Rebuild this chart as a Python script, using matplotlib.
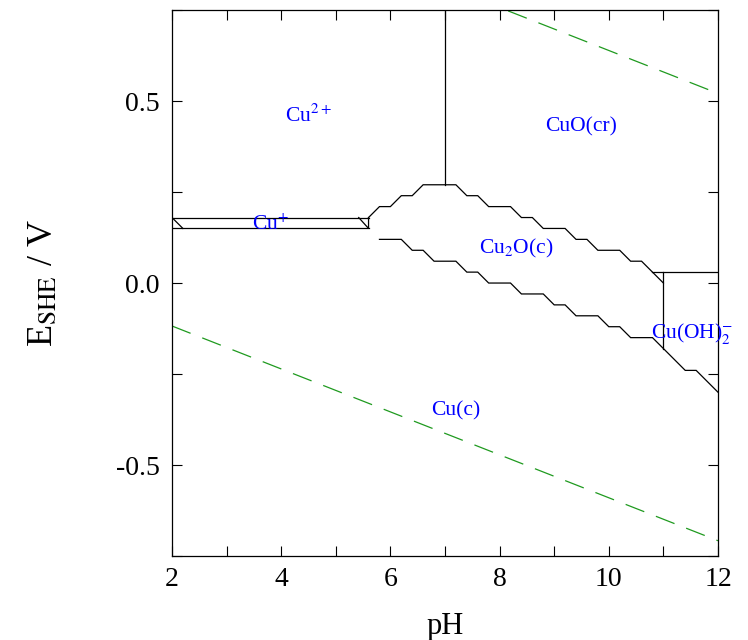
import matplotlib
matplotlib.use("Agg")
import matplotlib.pyplot as plt
from matplotlib.ticker import MultipleLocator

plt.rcParams['font.family'] = ['Liberation Serif', 'DejaVu Serif']
plt.rcParams['mathtext.fontset'] = 'stix'

# boundaries (pH, E / V)
cu_plus_top_ph = [2.0, 5.6]
cu_plus_top_e = [0.18, 0.18]
cu_plus_bot_ph = [2.0, 5.6]
cu_plus_bot_e = [0.15, 0.15]
cu_plus_left_ph = [2.0, 2.2]
cu_plus_left_e = [0.18, 0.15]
cu_plus_right_ph = [5.42, 5.6, 5.6]
cu_plus_right_e = [0.18, 0.15, 0.18]

upper_ph = [5.6, 5.8, 6.0, 6.2, 6.4, 6.6, 7.2, 7.4, 7.6, 7.8, 8.2, 8.4, 8.6,
            8.8, 9.2, 9.4, 9.6, 9.8, 10.2, 10.4, 10.6, 10.8, 11.0]
upper_e = [0.18, 0.21, 0.21, 0.24, 0.24, 0.27, 0.27, 0.24, 0.24, 0.21, 0.21,
           0.18, 0.18, 0.15, 0.15, 0.12, 0.12, 0.09, 0.09, 0.06, 0.06, 0.03, 0.0]

lower_ph = [5.8, 6.2, 6.4, 6.6, 6.8, 7.2, 7.4, 7.6, 7.8, 8.2, 8.4, 8.8, 9.0,
            9.2, 9.4, 9.8, 10.0, 10.2, 10.4, 10.8, 11.0, 11.4, 11.6, 12.0]
lower_e = [0.12, 0.12, 0.09, 0.09, 0.06, 0.06, 0.03, 0.03, 0.0, 0.0, -0.03,
           -0.03, -0.06, -0.06, -0.09, -0.09, -0.12, -0.12, -0.15, -0.15,
           -0.18, -0.24, -0.24, -0.30]

cu2_cuo_ph = [7.0, 7.0]
cu2_cuo_e = [0.75, 0.27]
cuo_hydrox_ph = [10.8, 12.0]
cuo_hydrox_e = [0.03, 0.03]
cu2o_hydrox_ph = [11.0, 11.0]
cu2o_hydrox_e = [0.03, -0.18]

# water stability lines
o2_ph = [2.0, 12.0]
o2_e = [1.111, 0.521]
h2_ph = [2.0, 12.0]
h2_e = [-0.118, -0.708]

labels = ['Cu$^{2+}$', 'CuO(cr)', 'Cu$^{+}$', 'Cu$_2$O(c)', 'Cu(OH)$_2^{-}$', 'Cu(c)']
label_ph = [4.5, 9.5, 3.8, 8.3, 11.53, 7.2]
label_e = [0.46, 0.43, 0.16, 0.095, -0.14, -0.35]

fig = plt.figure(figsize=(7.48, 6.4), dpi=100)
ax = fig.add_axes([0.2299, 0.13125, 0.73, 0.853])

lw = 0.9
for px, ey in [(cu_plus_top_ph, cu_plus_top_e), (cu_plus_bot_ph, cu_plus_bot_e),
               (cu_plus_left_ph, cu_plus_left_e), (cu_plus_right_ph, cu_plus_right_e),
               (upper_ph, upper_e), (lower_ph, lower_e),
               (cu2_cuo_ph, cu2_cuo_e), (cuo_hydrox_ph, cuo_hydrox_e),
               (cu2o_hydrox_ph, cu2o_hydrox_e)]:
    ax.plot(px, ey, color='black', lw=lw, solid_joinstyle='miter')

for px, ey in [(o2_ph, o2_e), (h2_ph, h2_e)]:
    ax.plot(px, ey, color='#1f9a1f', lw=0.9, dashes=(16, 10), clip_on=True)

for txt, x, y in zip(labels, label_ph, label_e):
    ax.text(x, y, txt, color='blue', fontsize=15.5, ha='center', va='center',
            clip_on=False)

ax.set_xlim(2, 12)
ax.set_ylim(-0.75, 0.75)
ax.xaxis.set_minor_locator(MultipleLocator(1))
ax.yaxis.set_minor_locator(MultipleLocator(0.25))
ax.set_xticks([2, 4, 6, 8, 10, 12])
ax.set_yticks([-0.5, 0.0, 0.5])
ax.set_yticklabels(['-0.5', '0.0', '0.5'])
ax.tick_params(which='both', direction='in', top=True, right=True,
               length=7.5, width=0.8, labelsize=20)
ax.tick_params(axis='x', pad=8)
ax.tick_params(axis='y', pad=9)
for s in ax.spines.values():
    s.set_linewidth(0.9)

ax.set_xlabel('pH', fontsize=22, labelpad=14)
ax.set_ylabel(r'E$_{\mathrm{SHE}}$ / V', fontsize=26, labelpad=40)

fig.savefig('out.png', dpi=100)
